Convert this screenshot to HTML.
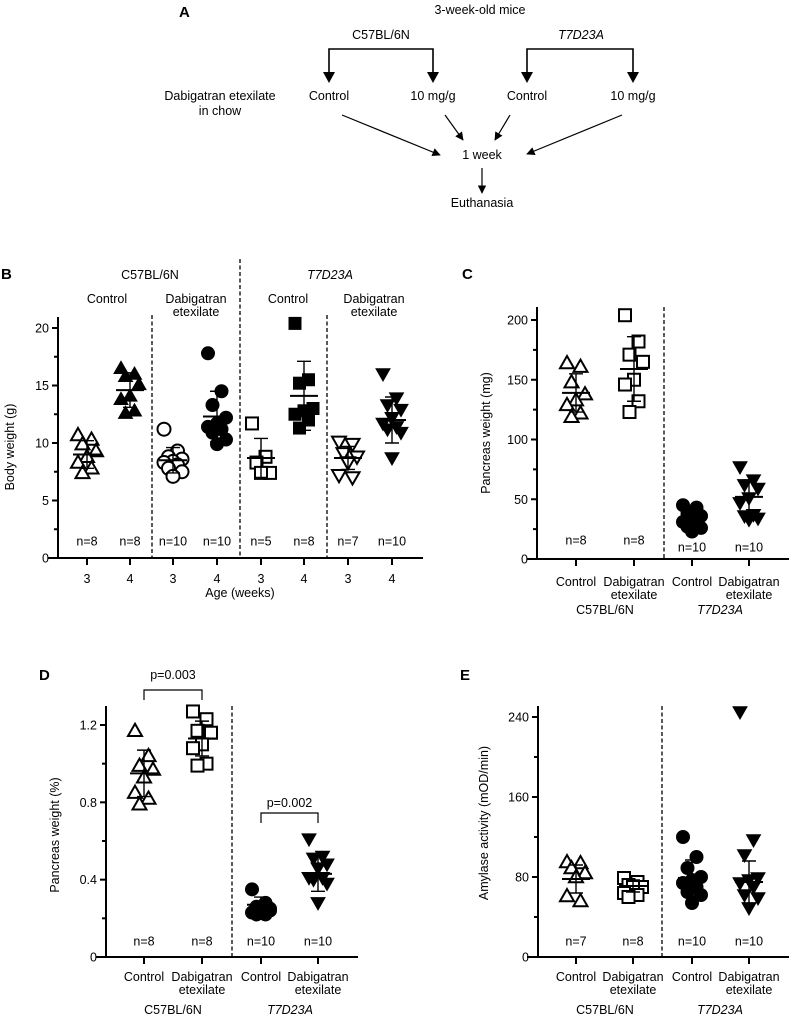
<!DOCTYPE html>
<html><head><meta charset="utf-8"><style>
body{margin:0;background:#fff;}
svg{display:block;font-family:"Liberation Sans",Arial,sans-serif;}
text{fill:#000;}
</style></head><body>
<svg id="fig" width="795" height="1018" viewBox="0 0 795 1018" xmlns="http://www.w3.org/2000/svg">
<defs><marker id="ah" viewBox="0 0 10 10" refX="9" refY="5" markerWidth="7" markerHeight="7" orient="auto"><path d="M0,0 L10,5 L0,10 z" fill="#000"/></marker></defs>
<g font-size="12.5">
<text x="179" y="17" font-weight="bold" font-size="15">A</text>
<text x="480" y="14" text-anchor="middle">3-week-old mice</text>
<text x="381" y="39" text-anchor="middle">C57BL/6N</text>
<text x="581" y="39" text-anchor="middle" font-style="italic">T7D23A</text>
<g stroke="#000" stroke-width="1.6" fill="none">
<path d="M329,80 V49 H433 V80" /><path d="M527,80 V49 H633 V80"/>
</g>
<g fill="#000">
<path d="M323,72 L335,72 L329,83 z"/><path d="M427,72 L439,72 L433,83 z"/><path d="M521,72 L533,72 L527,83 z"/><path d="M627,72 L639,72 L633,83 z"/>
</g>
<text x="220" y="100" text-anchor="middle">Dabigatran etexilate</text>
<text x="220" y="115" text-anchor="middle">in chow</text>
<text x="329" y="100" text-anchor="middle">Control</text>
<text x="433" y="100" text-anchor="middle">10 mg/g</text>
<text x="527" y="100" text-anchor="middle">Control</text>
<text x="633" y="100" text-anchor="middle">10 mg/g</text>
<g stroke="#000" stroke-width="1.2" marker-end="url(#ah)">
<line x1="342" y1="115" x2="440" y2="155"/><line x1="445" y1="115" x2="463" y2="140"/><line x1="510" y1="115" x2="495" y2="140"/><line x1="622" y1="115" x2="527" y2="154"/>
<line x1="482" y1="168" x2="482" y2="193"/>
</g>
<text x="482" y="159" text-anchor="middle">1 week</text>
<text x="482" y="207" text-anchor="middle">Euthanasia</text>
</g>
<g id="charts"></g>
</svg>
<script>
// Panel B data (body weight, g)
const bGroups = ["C57 ctrl 3","C57 ctrl 4","C57 DE 3","C57 DE 4","T7 ctrl 3","T7 ctrl 4","T7 DE 3","T7 DE 4"];
const bValues = [
 [10.7,10.3,9.9,9.3,8.8,8.3,7.8,7.4],
 [16.5,16.0,15.8,15.1,14.1,13.8,12.8,12.6],
 [11.2,9.3,8.8,8.6,8.4,8.3,8.1,7.8,7.5,7.1],
 [17.8,14.5,13.3,12.2,11.7,11.4,11.2,10.9,10.3,9.9],
 [11.7,8.8,8.3,7.4,7.4],
 [20.4,15.5,15.2,13.0,12.8,12.5,12.0,11.3],
 [10.1,9.9,9.1,8.8,8.3,7.2,7.0],
 [16.0,13.9,13.3,12.9,12.2,11.7,11.4,11.2,10.9,8.7]];
const bMeans = [9.0,14.6,8.5,12.3,8.7,14.1,8.7,12.0];
const bSds = [1.2,1.5,1.1,2.2,1.7,3.0,1.0,2.0];
const bN = ["n=8","n=8","n=10","n=10","n=5","n=8","n=7","n=10"];
const bTicks = [0,5,10,15,20];
const bXLabels = ["3","4","3","4","3","4","3","4"];
// Panel C data (pancreas weight, mg)
const cValues = [
 [164,161,148,138,133,129,122,119],
 [204,182,171,165,150,146,132,123],
 [45,43,38,36,33,31,29,27,26,23],
 [77,66,62,59,51,47,37,36,34,33]];
const cMeans = [139,159,33,52];
const cSds = [16,27,6,14];
const cN = ["n=8","n=8","n=10","n=10"];
const cTicks = [0,50,100,150,200];
// Panel D data (pancreas weight, %)
const dValues = [
 [1.17,1.04,0.99,0.97,0.93,0.85,0.82,0.79],
 [1.27,1.23,1.17,1.16,1.10,1.08,1.00,0.99],
 [0.35,0.28,0.26,0.25,0.24,0.23,0.22,0.22,0.24,0.26],
 [0.61,0.52,0.51,0.48,0.46,0.41,0.41,0.40,0.38,0.28]];
const dMeans = [0.95,1.13,0.27,0.43];
const dSds = [0.12,0.09,0.04,0.09];
const dN = ["n=8","n=8","n=10","n=10"];
const dTicks = [0,0.4,0.8,1.2];
// Panel E data (amylase, mOD/min)
const eValues = [
 [95,94,89,84,80,61,56],
 [79,75,72,70,70,64,62,60],
 [120,100,89,80,77,74,70,65,62,54],
 [245,117,102,79,77,74,70,62,59,49]];
const eMeans = [78,71,79,75];
const eSds = [14,6,18,21];
const eN = ["n=7","n=8","n=10","n=10"];
const eTicks = [0,80,160,240];

const FS = 12.5;
const NS="http://www.w3.org/2000/svg";
const root=document.getElementById('charts');
function mk(tag,attrs,parent,txt){const e=document.createElementNS(NS,tag);for(const k in attrs)e.setAttribute(k,attrs[k]);if(txt!==undefined)e.textContent=txt;(parent||root).appendChild(e);return e;}

function marker(g,shape,filled,x,y){
  const s=7;let e;
  const st={fill:filled?'#000':'#fff',stroke:'#000','stroke-width':filled?1:2};
  if(shape==='up'){e=mk('path',Object.assign({d:`M${x},${y-s} L${x+s},${y+s*0.75} L${x-s},${y+s*0.75}z`},st),g);}
  else if(shape==='down'){e=mk('path',Object.assign({d:`M${x},${y+s} L${x+s},${y-s*0.75} L${x-s},${y-s*0.75}z`},st),g);}
  else if(shape==='circle'){e=mk('circle',Object.assign({cx:x,cy:y,r:s-0.5},st),g);}
  else {e=mk('rect',Object.assign({x:x-s+1,y:y-s+1,width:2*s-2,height:2*s-2},st),g);}
  
  
}

function chart(cfg){
  const g=mk('g',{});
  
  
  const y=v=>cfg.y0-(v-cfg.vmin)/(cfg.vmax-cfg.vmin)*(cfg.y0-cfg.y1);
  const ya=mk('line',{x1:cfg.ax,y1:cfg.top,x2:cfg.ax,y2:cfg.y0,stroke:'#000','stroke-width':2},g);
  
  const xa=mk('line',{x1:cfg.xs,y1:cfg.y0,x2:cfg.xe,y2:cfg.y0,stroke:'#000','stroke-width':2},g);
  
  cfg.ticks.forEach((t,i)=>{
    mk('line',{x1:cfg.ax-6,y1:y(t),x2:cfg.ax,y2:y(t),stroke:'#000','stroke-width':2},g);
    const lb=mk('text',{x:cfg.ax-9,y:y(t)+4.5,'text-anchor':'end','font-size':FS},g,cfg.fmt?cfg.fmt(t):String(t));
    
    if(i<cfg.ticks.length-1){const m=(t+cfg.ticks[i+1])/2;mk('line',{x1:cfg.ax-4,y1:y(m),x2:cfg.ax,y2:y(m),stroke:'#000','stroke-width':2},g);}
  });
  const yt=mk('text',{x:cfg.ytx,y:cfg.yty,'text-anchor':'middle','font-size':FS,transform:`rotate(-90 ${cfg.ytx} ${cfg.yty})`},g,cfg.ytitle);
  
  cfg.dashes.forEach(d=>{const l=mk('line',{x1:d[0],y1:d[1],x2:d[0],y2:cfg.y0,stroke:'#000','stroke-width':1.3,'stroke-dasharray':'4,2.5'},g);
    });
  cfg.values.forEach((vals,gi)=>{
    const cx=cfg.xpos[gi];
    mk('line',{x1:cx,y1:cfg.y0,x2:cx,y2:cfg.y0+7,stroke:'#000','stroke-width':2},g);
    const [shape,filled]=cfg.shapes[gi];
    const sg=mk('g',{},g);
    
    
    vals.forEach((v,i)=>{const off=(((i*3)%5)-2)*4.5;marker(sg,shape,filled,cx+off,y(v));});
    const m=cfg.means[gi],s=cfg.sds[gi];
    const mean=mk('line',{x1:cx-14,y1:y(m),x2:cx+14,y2:y(m),stroke:'#000','stroke-width':2},sg);
    
    const eb=mk('path',{d:`M${cx},${y(m+s)} V${y(m-s)} M${cx-7},${y(m+s)} H${cx+7} M${cx-7},${y(m-s)} H${cx+7}`,stroke:'#000','stroke-width':1.4,fill:'none'},sg);
    
    const nt=mk('text',{x:cx,y:cfg.ny[gi]+4.5,'text-anchor':'middle','font-size':FS},g,cfg.n[gi]);
    
  });
  return {g,y};
}
const shapes4=[['up',false],['square',false],['circle',true],['down',true]];
function catLabels(g,xpos,ly,grpY,grpX){
  xpos.forEach((x,i)=>{
    if(i%2===0){const t=mk('text',{x:x,y:ly,'text-anchor':'middle','font-size':FS},g,'Control');}
    else{const t=mk('text',{x:x,y:ly,'text-anchor':'middle','font-size':FS},g,'Dabigatran');
      const t2=mk('text',{x:x,y:ly+13,'text-anchor':'middle','font-size':FS},g,'etexilate');}
  });
  const a=mk('text',{x:grpX[0],y:grpY,'text-anchor':'middle','font-size':FS},g,'C57BL/6N');
  const b=mk('text',{x:grpX[1],y:grpY,'text-anchor':'middle','font-size':FS,'font-style':'italic'},g,'T7D23A');
}
function panelLetter(x,y,L){const t=mk('text',{x:x,y:y,'font-size':15,'font-weight':'bold'},root,L);}

// Panel B
const bX=[87,130,173,217,261,304,348,392];
const B=chart({name:'panel-b-body-weight',ax:58,xs:48,xe:423,top:317,y0:558,y1:328,vmin:0,vmax:20,ticks:bTicks,
  ytitle:'Body weight (g)',ytx:14,yty:447,dashes:[[152,315],[240,259],[327,315]],values:bValues,means:bMeans,sds:bSds,n:bN,
  xpos:bX,ny:bN.map(()=>541),
  shapes:[['up',false],['up',true],['circle',false],['circle',true],['square',false],['square',true],['down',false],['down',true]]});
bXLabels.forEach((l,i)=>{const t=mk('text',{x:bX[i],y:583,'text-anchor':'middle','font-size':FS},B.g,l);});
{const t=mk('text',{x:240,y:597,'text-anchor':'middle','font-size':FS},B.g,'Age (weeks)');}
[['C57BL/6N',150,279,false],['T7D23A',330,279,true],['Control',107,303,false],['Dabigatran',196,303,false],['etexilate',196,316,false],['Control',288,303,false],['Dabigatran',374,303,false],['etexilate',374,316,false]].forEach(h=>{
  const t=mk('text',{x:h[1],y:h[2],'text-anchor':'middle','font-size':FS,'font-style':h[3]?'italic':'normal'},B.g,h[0]);
  });
panelLetter(1,279,'B');

// Panel C
const C=chart({name:'panel-c-pancreas-weight-mg',ax:537,xs:527,xe:789,top:307,y0:559,y1:320,vmin:0,vmax:200,ticks:cTicks,
  ytitle:'Pancreas weight (mg)',ytx:490,yty:433,dashes:[[664,307]],values:cValues,means:cMeans,sds:cSds,n:cN,
  xpos:[576,634,692,749],ny:[540,540,547,547],shapes:shapes4});
catLabels(C.g,[576,634,692,749],586,614,[605,720]);
panelLetter(462,279,'C');

// Panel D
const D=chart({name:'panel-d-pancreas-weight-pct',ax:106,xs:96,xe:358,top:706,y0:957,y1:725,vmin:0,vmax:1.2,ticks:dTicks,
  fmt:t=>t===0?'0':t.toFixed(1),ytitle:'Pancreas weight (%)',ytx:59,yty:835,dashes:[[232,706]],values:dValues,means:dMeans,sds:dSds,n:dN,
  xpos:[144,202,261,318],ny:dN.map(()=>941),shapes:shapes4});
catLabels(D.g,[144,202,261,318],981,1014,[173,290]);
[[144,202,690,'p=0.003',679],[261,318,813,'p=0.002',807]].forEach(p=>{
  const b=mk('path',{d:`M${p[0]},${p[2]+10} V${p[2]} H${p[1]} V${p[2]+10}`,stroke:'#000','stroke-width':1.2,fill:'none'},D.g);
  
  const t=mk('text',{x:(p[0]+p[1])/2,y:p[4],'text-anchor':'middle','font-size':FS},D.g,p[3]);
  });
panelLetter(39,680,'D');

// Panel E
const E=chart({name:'panel-e-amylase-activity',ax:538,xs:527,xe:789,top:706,y0:957,y1:717,vmin:0,vmax:240,ticks:eTicks,
  ytitle:'Amylase activity (mOD/min)',ytx:488,yty:823,dashes:[[662,706]],values:eValues,means:eMeans,sds:eSds,n:eN,
  xpos:[576,633,692,749],ny:eN.map(()=>941),shapes:shapes4});
catLabels(E.g,[576,633,692,749],981,1014,[605,720]);
panelLetter(460,680,'E');
</script>
</body></html>
